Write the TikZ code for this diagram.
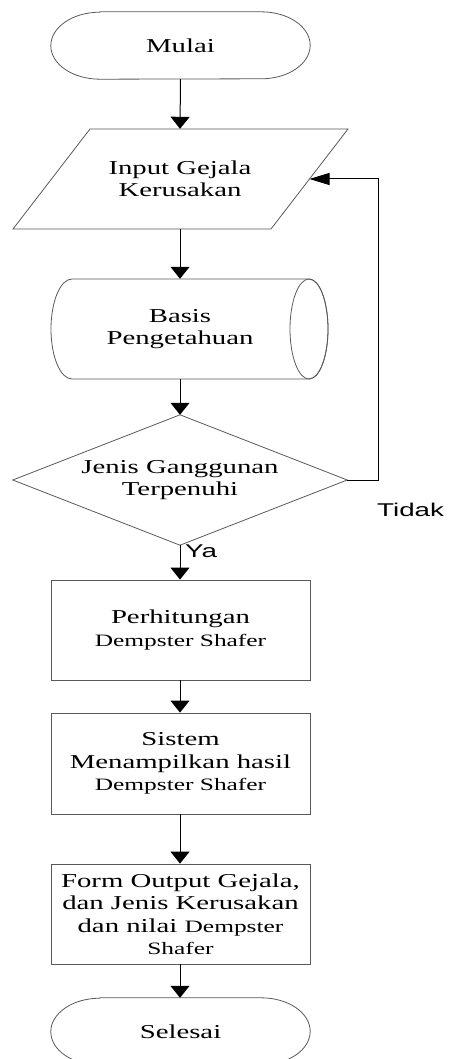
\documentclass[tikz,border=0pt]{standalone}
\usepackage{fontspec}
\setmainfont{Liberation Serif}[FakeStretch=1.46]
\newfontfamily\labelsans{Liberation Sans}[FakeStretch=1.5]
\usetikzlibrary{arrows.meta,calc}

% smaller face used for the "Dempster Shafer" parts
\newcommand{\ds}[1]{{\fontsize{17.4}{22.5}\selectfont #1}}

\tikzset{
  shapeline/.style={draw=black!65, line width=0.8pt},
  box/.style={shapeline, rectangle, minimum width=259pt, minimum height=100pt,
              inner sep=0pt, align=center, font=\fontsize{19.7}{22.5}\selectfont},
  frame/.style={rectangle, inner sep=0pt, align=center,
                font=\fontsize{19.7}{22.5}\selectfont},
  conn/.style={draw=black, line width=1pt, -{Triangle[width=19pt,length=12pt]}},
  connh/.style={draw=black, line width=1pt, -{Triangle[width=12pt,length=20pt]}},
  answer/.style={font=\labelsans\fontsize{18.5}{20}\selectfont, inner sep=0pt},
}

\begin{document}
\begin{tikzpicture}[x=1pt, y=-1pt]
  \useasboundingbox (0,0) rectangle (450,1059);

  % start terminator
  \node[frame, minimum width=259pt, minimum height=67pt] (start) at (180.5,45.5) {Mulai};
  \draw[shapeline] ([xshift=49pt]start.north west) -- ([xshift=-49pt]start.north east)
     arc[start angle=90, end angle=-90, x radius=49pt, y radius=33.5pt]
     -- ([xshift=49pt]start.south west)
     arc[start angle=270, end angle=90, x radius=49pt, y radius=33.5pt] -- cycle;

  % input (parallelogram)
  \node[frame, minimum width=335pt, minimum height=100pt] (input) at (180,179)
       {Input Gejala\\Kerusakan};
  \draw[shapeline] (90,129) -- (348,129) -- (271,229) -- (13,229) -- cycle;
  \coordinate (inputR) at (309.5,179);

  % knowledge base (stored data)
  \node[frame, minimum width=240pt, minimum height=100pt] (kb) at (180,329)
       {Basis\\Pengetahuan};
  \draw[shapeline] (72,279) -- (309,279)
     arc[start angle=90, end angle=-90, x radius=19pt, y radius=50pt]
     -- (72,379)
     arc[start angle=270, end angle=90, x radius=21pt, y radius=50pt] -- cycle;
  \draw[shapeline] (309,329) ellipse[x radius=19pt, y radius=50pt];

  % decision
  \node[frame, minimum width=334pt, minimum height=130pt] (dec) at (180,480)
       {Jenis Ganggunan\\Terpenuhi};
  \draw[shapeline] (dec.north) -- (dec.east) -- (dec.south) -- (dec.west) -- cycle;

  % process boxes
  \node[box] (calc) at (180.5,630) {Perhitungan\\\ds{Dempster Shafer}};
  \node[box, minimum height=101pt] (show) at (180.5,763.5)
       {Sistem\\Menampilkan hasil\\\ds{Dempster Shafer}};
  \node[box] (out) at (180.5,914)
       {Form Output Gejala,\\dan Jenis Kerusakan\\dan nilai \ds{Dempster}\\\ds{Shafer}};

  % end terminator
  \node[frame, minimum width=259pt, minimum height=67pt] (stop) at (180.5,1031.5) {Selesai};
  \draw[shapeline] ([xshift=49pt]stop.north west) -- ([xshift=-49pt]stop.north east)
     arc[start angle=90, end angle=-90, x radius=49pt, y radius=33.5pt]
     -- ([xshift=49pt]stop.south west)
     arc[start angle=270, end angle=90, x radius=49pt, y radius=33.5pt] -- cycle;

  % connectors
  \draw[conn] (start.south) -- (input.north);
  \draw[conn] (input.south) -- (kb.north);
  \draw[conn] (kb.south) -- (dec.north);
  \draw[conn] (dec.south) -- (calc.north -| dec.south);
  \draw[conn] (calc.south -| dec.south) -- (show.north -| dec.south);
  \draw[conn] (show.south -| dec.south) -- (out.north -| dec.south);
  \draw[conn] (out.south -| dec.south) -- (stop.north -| dec.south);

  % loop back when the condition is not met
  \coordinate (loopTop) at (378,179);
  \draw[connh] (dec.east) -| (loopTop) -- (inputR);

  % branch labels
  \node[answer, anchor=base west] (no) at (377,516) {Tidak};
  \node[answer, anchor=base west] (yes) at (185,557) {Ya};
\end{tikzpicture}
\end{document}
